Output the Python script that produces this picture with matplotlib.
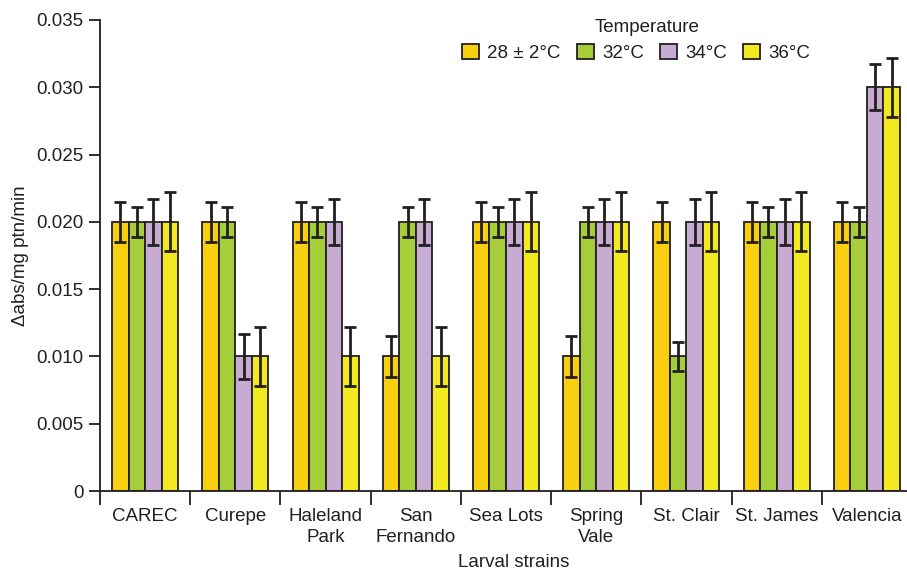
import numpy as np
import matplotlib.pyplot as plt

plt.rcParams['font.family'] = ['Liberation Sans', 'DejaVu Sans']

strains = ["CAREC", "Curepe", "Haleland\nPark", "San\nFernando", "Sea Lots",
           "Spring\nVale", "St. Clair", "St. James", "Valencia"]
temps = ["28 \u00b1 2\u00b0C", "32\u00b0C", "34\u00b0C", "36\u00b0C"]

t28 = [0.020, 0.020, 0.020, 0.010, 0.020, 0.010, 0.020, 0.020, 0.020]
t32 = [0.020, 0.020, 0.020, 0.020, 0.020, 0.020, 0.010, 0.020, 0.020]
t34 = [0.020, 0.010, 0.020, 0.020, 0.020, 0.020, 0.020, 0.020, 0.030]
t36 = [0.020, 0.010, 0.010, 0.010, 0.020, 0.020, 0.020, 0.020, 0.030]
err = [0.0015, 0.0011, 0.0017, 0.0022]

colors = ["#F9D00F", "#A6CE3A", "#C8ABD2", "#F2E920"]
edge = "#231F20"
fs = 13.5

fig = plt.figure(figsize=(9.07, 5.71), dpi=100)
ax = fig.add_axes([100 / 907, 1 - 491 / 571, 812 / 907, 471 / 571])

x = np.arange(len(strains)) + 0.5
w = 0.183
for i, (vals, c) in enumerate(zip([t28, t32, t34, t36], colors)):
    pos = x + (i - 1.5) * w
    ax.bar(pos, vals, width=w, color=c, edgecolor=edge, linewidth=1.3,
           label=temps[i], zorder=2)
    ax.errorbar(pos, vals, yerr=err[i], fmt='none', ecolor=edge,
                elinewidth=2, capsize=4.5, capthick=2, zorder=3)

ax.set_xlim(0, len(strains))
ax.set_ylim(0, 0.035)
ax.set_yticks(np.arange(0, 0.0351, 0.005))
ax.set_yticklabels(["0"] + [f"{v:.3f}" for v in np.arange(0.005, 0.0351, 0.005)])

# group boundaries get tick marks, centres get the labels
ax.set_xticks(np.arange(0, len(strains) + 1))
ax.set_xticklabels([])
ax.set_xticks(x, minor=True)
ax.set_xticklabels(strains, minor=True, linespacing=1.3)
ax.tick_params(axis='x', which='major', length=10, width=1.3, color=edge)
ax.tick_params(axis='x', which='minor', length=0, pad=12, labelsize=fs,
               labelcolor=edge)
ax.tick_params(axis='y', length=8, width=1.3, color=edge, labelsize=fs,
               labelcolor=edge, pad=4)

for s in ['top', 'right']:
    ax.spines[s].set_visible(False)
for s in ['left', 'bottom']:
    ax.spines[s].set_linewidth(1.3)
    ax.spines[s].set_color(edge)

ax.set_ylabel("\u0394abs/mg ptn/min", fontsize=fs, color=edge, va='center')
ax.yaxis.set_label_coords(-0.0985, 0.5)
ax.set_xlabel("Larval strains", fontsize=fs, color=edge, va='center')
ax.xaxis.set_label_coords(0.51, -0.151)

# legend title sits a bit right of the entry row's centre
fig.text(647 / 907, 1 - 28 / 571, "Temperature", fontsize=fs, color=edge,
         ha='center', va='center')
leg = ax.legend(ncol=4, frameon=False, fontsize=fs, loc='center',
                bbox_to_anchor=(636 / 907, 1 - 53 / 571),
                bbox_transform=fig.transFigure,
                handlelength=0.9, handleheight=0.9, handletextpad=0.45,
                columnspacing=0.85, borderpad=0)
for t in leg.get_texts():
    t.set_color(edge)

fig.savefig("out.png", dpi=100)
